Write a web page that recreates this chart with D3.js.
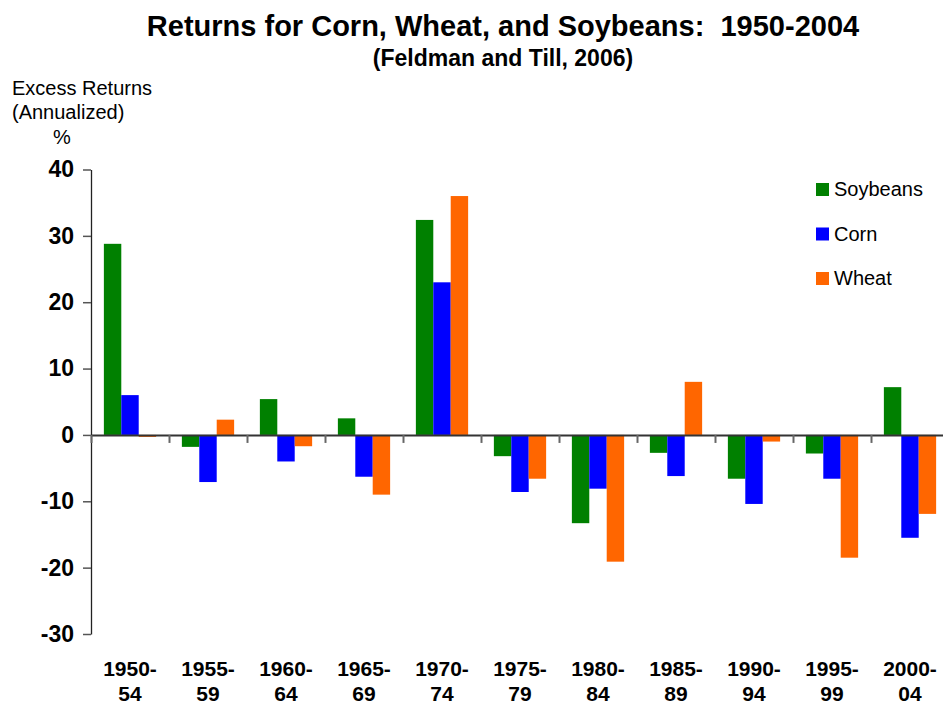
<!DOCTYPE html>
<html>
<head>
<meta charset="utf-8">
<script src="https://cdn.jsdelivr.net/npm/d3@7"></script>
<style>
  body { margin: 0; background: #fff; }
  svg { font-family: Arial, "Liberation Sans", sans-serif; }
</style>
</head>
<body>
<svg id="chart" width="943" height="706"></svg>
<script>
// periods shown on the x axis (two lines each)
const periods = ["1950-54", "1955-59", "1960-64", "1965-69", "1970-74", "1975-79",
                 "1980-84", "1985-89", "1990-94", "1995-99", "2000-04"];
const periodTop = ["1950-", "1955-", "1960-", "1965-", "1970-", "1975-",
                   "1980-", "1985-", "1990-", "1995-", "2000-"];
const periodBottom = ["54", "59", "64", "69", "74", "79", "84", "89", "94", "99", "04"];

const seriesNames = ["Soybeans", "Corn", "Wheat"];
const seriesColors = ["#008000", "#0000ff", "#ff6600"];

// excess returns (annualized, %)
const soybeans = [28.8, -1.8, 5.4, 2.5, 32.4, -3.2, -13.3, -2.7, -6.6, -2.8, 7.2];
const corn     = [6.0, -7.1, -4.0, -6.3, 23.0, -8.6, -8.1, -6.2, -10.4, -6.6, -15.5];
const wheat    = [-0.3, 2.3, -1.7, -9.0, 36.0, -6.6, -19.1, 8.0, -1.0, -18.5, -11.9];

const yTicks = [-30, -20, -10, 0, 10, 20, 30, 40];

const values = [soybeans, corn, wheat];

const svg = d3.select('#chart');
const plotLeft = 91, plotRight = 949, plotTop = 169.5, plotBottom = 634;

const x = d3.scaleBand()
  .domain(periods)
  .range([plotLeft, plotRight])
  .paddingInner(0.33)
  .paddingOuter(0.165);

const xInner = d3.scaleBand()
  .domain(seriesNames)
  .range([0, x.bandwidth()]);

const y = d3.scaleLinear()
  .domain([-30, 40])
  .range([plotBottom, plotTop]);

// bars
seriesNames.forEach((name, s) => {
  svg.append('g')
    .selectAll('rect')
    .data(values[s])
    .enter()
    .append('rect')
    .attr('x', (v, i) => x(periods[i]) + xInner(name))
    .attr('width', xInner.bandwidth())
    .attr('y', v => y(Math.max(0, v)))
    .attr('height', v => Math.abs(y(v) - y(0)))
    .attr('fill', seriesColors[s]);
});

// y axis
const yAxis = svg.append('g')
  .attr('transform', `translate(${plotLeft},0)`)
  .call(d3.axisLeft(y).tickValues(yTicks).tickSize(8).tickSizeOuter(0).tickPadding(9)
    .tickFormat(d => String(d)));
yAxis.select('.domain').attr('stroke', '#222').attr('stroke-width', 1.3);
yAxis.selectAll('.tick line').attr('stroke', '#555').attr('stroke-width', 1.5);
yAxis.selectAll('.tick text')
  .attr('font-size', 23)
  .attr('font-weight', 'bold')
  .attr('fill', '#000')
  .attr('font-family', 'Arial, "Liberation Sans", sans-serif');

// zero line with category ticks
const zeroAxis = svg.append('g')
  .attr('transform', `translate(0,${y(0)})`)
  .call(d3.axisBottom(d3.scaleLinear().domain([0, periods.length]).range([plotLeft, plotRight]))
    .tickValues(d3.range(periods.length + 1))
    .tickSize(8)
    .tickSizeOuter(0)
    .tickFormat(''));
zeroAxis.select('.domain').attr('stroke', '#333').attr('stroke-width', 2);
zeroAxis.selectAll('.tick line').attr('stroke', '#666').attr('stroke-width', 2);

// category labels (two lines)
const labels = svg.append('g')
  .selectAll('text')
  .data(periods)
  .enter()
  .append('text')
  .attr('text-anchor', 'middle')
  .attr('font-size', 21)
  .attr('font-weight', 'bold')
  .attr('fill', '#000');
labels.append('tspan').attr('x', d => x(d) + x.bandwidth() / 2).attr('y', 676)
  .text((d, i) => periodTop[i]);
labels.append('tspan').attr('x', d => x(d) + x.bandwidth() / 2).attr('y', 701)
  .text((d, i) => periodBottom[i]);

// titles
svg.append('text')
  .attr('x', 503).attr('y', 36)
  .attr('text-anchor', 'middle')
  .attr('font-size', 29).attr('font-weight', 'bold')
  .style('white-space', 'pre')
  .text('Returns for Corn, Wheat, and Soybeans:  1950-2004');
svg.append('text')
  .attr('x', 503).attr('y', 66)
  .attr('text-anchor', 'middle')
  .attr('font-size', 23).attr('font-weight', 'bold')
  .text('(Feldman and Till, 2006)');

// y axis caption
svg.append('text').attr('x', 12).attr('y', 95).attr('font-size', 20).text('Excess Returns');
svg.append('text').attr('x', 12).attr('y', 119).attr('font-size', 20).text('(Annualized)');
svg.append('text').attr('x', 53).attr('y', 144).attr('font-size', 20).text('%');

// legend
const legend = svg.append('g')
  .selectAll('g')
  .data(seriesNames)
  .enter()
  .append('g')
  .attr('transform', (d, i) => `translate(816,${183 + i * 44.5})`);
legend.append('rect').attr('width', 13).attr('height', 13)
  .attr('fill', (d, i) => seriesColors[i]);
legend.append('text').attr('x', 18).attr('y', 13)
  .attr('font-size', 20).text(d => d);
</script>
</body>
</html>
